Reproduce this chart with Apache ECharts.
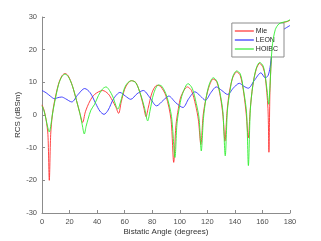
<!DOCTYPE html>
<html>
<head>
<meta charset="utf-8">
<script src="https://cdn.jsdelivr.net/npm/echarts@6/dist/echarts.min.js"></script>
<style>html,body{margin:0;padding:0;background:#fff}#c{width:321px;height:241px}</style>
</head>
<body>
<div id="c"></div>
<script>
const seriesNames = ['Mie', 'LEON', 'HOIBC'];
const xTicks = [0, 20, 40, 60, 80, 100, 120, 140, 160, 180];
const yTicks = [-30, -20, -10, 0, 10, 20, 30];

const mieAngle = [0,1.5,3,4.3,5.3,6.3,7.5,9,12,14.5,16.7,19,22,25,27.5,29.5,31.5,34.8,38.2,44,48,51,53.5,55.6,57.5,60,62.5,65,68.2,71.8,74,75.5,77,80,83.5,86,90,93.6,95.6,97.2,99,101,105.5,108.5,111.5,113.5,115.3,117,119,121.5,124.3,127,129.5,131.3,132.8,134.3,136,138.5,141.3,144,146.5,148.3,149.7,151.2,153,155.5,158,160.5,162,164,164.7,165.5,167,169.3,172,175,178,180];
const mieRcs   = [3.1,1.5,-1.5,-6,-20,-6,0,4,9.5,12,12.7,12,9,4.5,0.5,-2.3,1,4.3,6.3,7.5,6.5,4.5,2.5,0.5,4,7.9,9.8,10.5,9.9,5.8,2,-0.5,2,7,9.1,8.8,5.8,-1.3,-14.5,-3.3,2,5.8,8.6,7.5,3,-1.5,-9,0,5,9,11,10,5.5,0,-8,1,7,11.5,13.2,12,6.5,0,-7,2,9,14,15.8,14.5,11.9,2,-11.4,8,20.6,26.1,27.8,28.3,28.6,29];

const leonAngle = [0,3,6,9,11.5,14.3,17,21.6,26,31,35,39,42,45,48,52,56.6,60.5,64.4,69,73.5,78,83.2,88,92,97,102.3,106.5,111,115,118.6,122.5,126.5,130.5,134.7,139,143.2,146.5,149.7,154,158.9,162,164,165.5,167,170,173,176.5,180];
const leonRcs   = [7.5,6.8,5.8,5.0,5.3,5.5,5.0,4.0,6.2,8.1,6.8,3.5,1.2,0.2,1.5,5,6.9,5.8,4.8,6.5,7.5,5.5,2.8,4.5,5.8,3.8,2.3,5,7.1,5.8,4.5,6.8,8.6,7.5,6.3,8.3,9.7,8.8,8.2,10.5,12.9,11.4,12,14.5,19,23.5,25.5,26.5,27.4];

const hoibcAngle = [0,1.5,3,4.3,5.3,6.3,7.5,9,12,14.5,16.7,19,22,25,27.5,29.2,30.7,32,33.4,35.5,38.2,41,44,46.5,49,51.5,53.5,55,57,60,62.5,65,68.2,71.8,74.5,76.7,78.5,81,84.5,87,90.5,94,96.5,98,100,102,106,109,112,114,115.6,117.2,119,121.5,124.3,127,129.5,131.3,133,134.6,136.5,138.5,141.3,144,146.5,148.5,149.8,151.2,153,155.5,158,160.5,162,163.5,164.5,165.5,167,169.3,172,175,178,180];
const hoibcRcs   = [2.8,1.2,-1.5,-4,-5.2,-3.5,0,3.5,9.3,11.8,12.5,11.8,9,4.5,0.5,-3,-5.8,-3.5,-1.3,1.5,3.3,6,8,8.6,7.5,5.5,3,1.8,4,8.4,10,10.5,9.8,6,2,-1.8,1.5,6.5,9.2,8.8,5.8,-0.5,-13,-2.5,3,6.5,9.6,8.2,3.5,-1,-11,-1,5,9.5,11.4,10.3,6,1,-12.5,1.5,7.5,11.8,13.5,12.5,7,0.5,-15.5,1.5,9,14.3,16.1,15,12,7,3.3,9,20.6,26.1,27.9,28.4,28.7,29.2];

function pairs(xs, ys) { return xs.map((x, i) => [x, ys[i]]); }

const chart = echarts.init(document.getElementById('c'), null, {renderer: 'canvas'});
const axisColor = '#8c8c8c';
const textColor = '#4d4d4d';
const fontFamily = 'Liberation Sans, Arial, sans-serif';
const colors = ['#ff3030', '#3030ff', '#30ee30'];

chart.setOption({
  animation: false,
  color: colors,
  grid: {left: 42, right: 31, top: 17, bottom: 27, containLabel: false},
  legend: {
    orient: 'vertical',
    right: 37, top: 23,
    data: seriesNames.map((n, i) => ({name: n, itemStyle: {color: colors[i]}})),
    icon: 'rect',
    itemWidth: 19, itemHeight: 1.2,
    itemGap: 1,
    padding: [4, 6, 4, 3],
    backgroundColor: '#fff',
    borderColor: '#8c8c8c',
    borderWidth: 1,
    borderRadius: 0,
    textStyle: {fontSize: 7, color: '#222', fontFamily: fontFamily, padding: [0, 0, 0, -3], lineHeight: 8}
  },
  xAxis: {
    type: 'value', min: 0, max: 180, interval: 20,
    name: 'Bistatic Angle (degrees)', nameLocation: 'middle', nameGap: 15,
    nameMoveOverlap: false,
    nameTextStyle: {fontSize: 8, color: '#333', fontFamily: fontFamily},
    axisLine: {show: true, onZero: false, lineStyle: {color: axisColor, width: 1}},
    axisTick: {show: true, inside: true, length: 3, lineStyle: {color: axisColor}},
    axisLabel: {fontSize: 7.5, color: textColor, fontFamily: fontFamily, margin: 5,
      formatter: v => xTicks.includes(v) ? String(v) : ''},
    splitLine: {show: false}
  },
  yAxis: {
    type: 'value', min: -30, max: 30, interval: 10,
    name: 'RCS (dBSm)', nameLocation: 'middle', nameGap: 20,
    nameMoveOverlap: false,
    nameTextStyle: {fontSize: 8, color: '#333', fontFamily: fontFamily},
    axisLine: {show: true, onZero: false, lineStyle: {color: axisColor, width: 1}},
    axisTick: {show: true, inside: true, length: 3, lineStyle: {color: axisColor}},
    axisLabel: {fontSize: 7.5, color: textColor, fontFamily: fontFamily, margin: 5,
      formatter: v => yTicks.includes(v) ? String(v) : ''},
    splitLine: {show: false}
  },
  series: [
    {name: seriesNames[0], type: 'line', data: pairs(mieAngle, mieRcs), showSymbol: false, smooth: 0.3, lineStyle: {width: 0.9}, z: 2},
    {name: seriesNames[1], type: 'line', data: pairs(leonAngle, leonRcs), showSymbol: false, smooth: 0.3, lineStyle: {width: 0.9}, z: 3},
    {name: seriesNames[2], type: 'line', data: pairs(hoibcAngle, hoibcRcs), showSymbol: false, smooth: 0.3, lineStyle: {width: 0.9}, z: 4}
  ]
});
</script>
</body>
</html>
